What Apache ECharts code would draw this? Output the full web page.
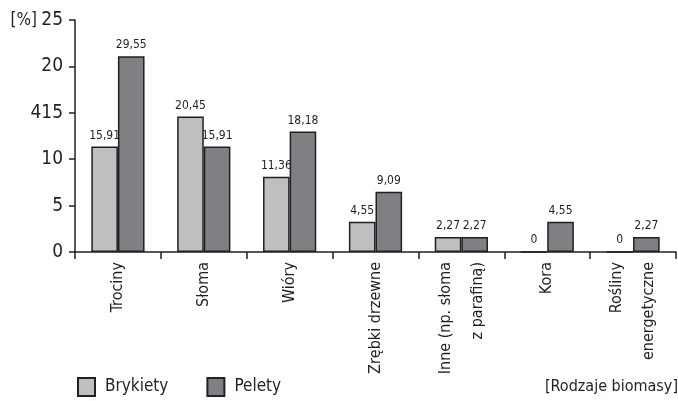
<!DOCTYPE html>
<html>
<head>
<meta charset="utf-8">
<script src="https://cdn.jsdelivr.net/npm/echarts@6/dist/echarts.min.js"></script>
<style>
  html, body { margin: 0; padding: 0; background: #fff; }
  #chart { width: 678px; height: 401px; }
</style>
</head>
<body>
<div id="chart"></div>
<script>
// Biomass types used for briquettes and pellets [%]
const categories = [
  'Trociny',
  'Słoma',
  'Wióry',
  'Zrębki drzewne',
  'Inne (np. słoma\nz parafiną)',
  'Kora',
  'Rośliny\nenergetyczne'
];
const brykiety = [15.91, 20.45, 11.36, 4.55, 2.27, 0, 0];
const pelety = [29.55, 15.91, 18.18, 9.09, 2.27, 4.55, 2.27];
const yTickLabels = ['0', '5', '10', '415', '20', '25'];

const FONT = "'DejaVu Sans Condensed', 'Liberation Sans Narrow', sans-serif";
const INK = '#231f20';

const fmtValue = p => String(p.value).replace('.', ',');

const chart = echarts.init(document.getElementById('chart'), null, { renderer: 'canvas' });

chart.setOption({
  animation: false,
  backgroundColor: '#ffffff',
  textStyle: { fontFamily: FONT, color: INK },
  title: {
    text: '[Rodzaje biomasy]',
    right: 0,
    top: 379,
    padding: 0,
    textStyle: { fontFamily: FONT, fontSize: 16, fontWeight: 'normal', color: INK }
  },
  graphic: [{
    type: 'text',
    style: {
      text: '[%]', x: 37, y: 21,
      align: 'right', verticalAlign: 'middle',
      fontFamily: FONT, fontSize: 17, fill: INK
    }
  }],
  legend: {
    left: 77,
    top: 377,
    padding: 0,
    itemWidth: 17,
    itemHeight: 18,
    itemGap: 38,
    icon: 'rect',
    textStyle: { fontFamily: FONT, fontSize: 17, color: INK, padding: [0, 0, 0, 5] },
    data: ['Brykiety', 'Pelety']
  },
  grid: { left: 75, right: 2, top: 20, bottom: 149, containLabel: false },
  xAxis: {
    type: 'category',
    data: categories,
    axisLine: { lineStyle: { color: INK, width: 1.5 } },
    axisTick: { show: true, length: 7, lineStyle: { color: INK, width: 1.5 } },
    axisLabel: {
      interval: 0,
      rotate: 90,
      margin: 10,
      fontFamily: FONT,
      fontSize: 16,
      lineHeight: 32,
      color: INK
    }
  },
  yAxis: {
    type: 'value',
    min: 0,
    max: 35,
    interval: 7,
    axisLine: { show: true, lineStyle: { color: INK, width: 1.5 } },
    axisTick: { show: true, length: 6, lineStyle: { color: INK, width: 1.5 } },
    splitLine: { show: false },
    axisLabel: {
      margin: 12,
      fontFamily: FONT,
      fontSize: 19,
      color: INK,
      formatter: (v) => yTickLabels[Math.round(v / 7)]
    }
  },
  series: [
    {
      name: 'Brykiety',
      type: 'bar',
      data: brykiety,
      barWidth: '31%',
      barGap: '0%',
      itemStyle: { color: '#bdbfc1', borderColor: INK, borderWidth: 1.5 },
      label: {
        show: true, position: 'top', distance: 5,
        fontFamily: FONT, fontSize: 12, color: INK, formatter: fmtValue
      }
    },
    {
      name: 'Pelety',
      type: 'bar',
      data: pelety,
      barWidth: '31%',
      barGap: '0%',
      itemStyle: { color: '#7f8083', borderColor: INK, borderWidth: 1.5 },
      label: {
        show: true, position: 'top', distance: 5,
        fontFamily: FONT, fontSize: 12, color: INK, formatter: fmtValue
      }
    }
  ]
});
</script>
</body>
</html>
